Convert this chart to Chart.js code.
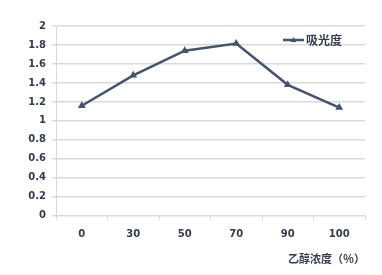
<!DOCTYPE html>
<html>
<head>
<meta charset="utf-8">
<script src="https://cdn.jsdelivr.net/npm/chart.js@4"></script>
<style>
  html, body { margin: 0; padding: 0; background: #fff; }
  #wrap { width: 382px; height: 275px; }
</style>
</head>
<body>
<div id="wrap"><canvas id="chart"></canvas></div>
<script>
const categories = ["0", "30", "50", "70", "90", "100"];
const absorbance = [1.16, 1.48, 1.74, 1.815, 1.38, 1.14];
const seriesName = "吸光度";
const xTitle = "乙醇浓度（％）";

const lineColor = "#44546a";
const textColor = "#333c4e";
const gridColor = "#d9d9d9";

// legend drawn inside the plot, top right, like the original
const insideLegend = {
  id: "insideLegend",
  afterDraw(chart) {
    const { ctx, chartArea } = chart;
    const ds = chart.data.datasets[0];
    const x = chartArea.right - 82;
    const y = chartArea.top + 14;
    ctx.save();
    ctx.strokeStyle = ds.borderColor;
    ctx.lineWidth = 2.5;
    ctx.beginPath();
    ctx.moveTo(x, y);
    ctx.lineTo(x + 21, y);
    ctx.stroke();
    ctx.fillStyle = ds.borderColor;
    ctx.beginPath();
    ctx.moveTo(x + 10.5, y - 3);
    ctx.lineTo(x + 13.5, y + 2);
    ctx.lineTo(x + 7.5, y + 2);
    ctx.closePath();
    ctx.fill();
    ctx.fillStyle = textColor;
    ctx.font = "bold 12px 'Noto Sans CJK SC'";
    ctx.textBaseline = "middle";
    ctx.fillText(ds.label, x + 23, y);
    ctx.restore();
  },
};

new Chart(document.getElementById("chart"), {
  type: "line",
  data: {
    labels: categories,
    datasets: [
      {
        label: seriesName,
        data: absorbance,
        borderColor: lineColor,
        backgroundColor: lineColor,
        borderWidth: 2.5,
        pointStyle: "triangle",
        pointRadius: 2,
        tension: 0,
      },
    ],
  },
  plugins: [insideLegend],
  options: {
    responsive: true,
    maintainAspectRatio: false,
    animation: false,
    layout: { padding: { left: 0, right: 17, top: 26, bottom: 10 } },
    plugins: {
      tooltip: { enabled: false },
      legend: { display: false },
    },
    scales: {
      x: {
        offset: true,
        grid: {
          display: true,
          drawOnChartArea: false,
          drawTicks: true,
          tickLength: 4,
          color: gridColor,
          offset: true,
        },
        border: { color: gridColor },
        ticks: {
          color: textColor,
          font: { family: "'DejaVu Sans'", size: 10, weight: "bold" },
          padding: 9,
        },
        title: {
          display: true,
          text: xTitle,
          align: "end",
          color: textColor,
          font: { family: "'Noto Sans CJK SC'", size: 11, weight: "bold" },
          padding: { top: 2, bottom: 0 },
        },
      },
      y: {
        min: 0,
        max: 2,
        afterFit(scale) { scale.width = 56; },
        grid: { color: gridColor, tickLength: 4, lineWidth: 1.5 },
        border: { color: gridColor },
        ticks: {
          stepSize: 0.2,
          color: textColor,
          font: { family: "'DejaVu Sans'", size: 10, weight: "bold" },
          padding: 6,
          callback: (v) => Math.round(v * 10) / 10,
        },
      },
    },
  },
});
</script>
</body>
</html>
